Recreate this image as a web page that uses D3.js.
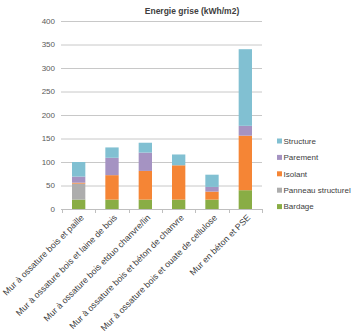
<!DOCTYPE html>
<html><head><meta charset="utf-8">
<script src="https://cdn.jsdelivr.net/npm/d3@7"></script>
<style>body{margin:0;background:#fff}svg{display:block}</style>
</head><body>
<svg id="c" width="362" height="336"></svg>
<script>
const categories = ["Mur à ossature bois et paille","Mur à ossature bois et laine de bois","Mur à ossature bois etduo chanvre/lin","Mur à ossature bois et béton de chanvre","Mur à ossature bois et ouate de cellulose","Mur en béton et PSE"];
const seriesNames = ["Bardage","Panneau structurel","Isolant","Parement","Structure"];
const bardage = [20,20,20,20,20,40];
const panneau = [34,0,0,0,0,0];
const isolant = [2,52,61,73,17,116];
const parement = [13,37,39,0,10,21];
const structure = [31,22,21,23,26,163];
const yTicks = [0,50,100,150,200,250,300,350,400];
const colors = ["#89ad45","#adadad","#f58535","#a593c2","#81c0d2"];

const values = [bardage,panneau,isolant,parement,structure];
const table = categories.map((c,i)=>{const o={cat:c};seriesNames.forEach((s,j)=>o[s]=values[j][i]);return o;});
const stack = d3.stack().keys(seriesNames)(table);

const svg = d3.select("#c");
const x = d3.scaleBand().domain(categories).range([62,262]).paddingInner(0.6).paddingOuter(0.3);
const xb = d3.scaleBand().domain(categories).range([62,262]);
const y = d3.scaleLinear().domain([0,400]).range([209,21]);
const font = "Liberation Sans, Arial, sans-serif";

// gridlines
svg.append("g").selectAll("line").data(yTicks.slice(1)).join("line")
  .attr("x1",61).attr("x2",262).attr("y1",d=>y(d)+0.5).attr("y2",d=>y(d)+0.5)
  .attr("stroke","#c8c8c8").attr("stroke-width",1);

// y labels
svg.append("g").selectAll("text").data(yTicks).join("text")
  .attr("x",55).attr("y",d=>y(d)).attr("dy","0.35em").attr("text-anchor","end")
  .attr("font-family",font).attr("font-size",8).attr("fill","#595959").text(d=>d);

// bars
svg.append("g").selectAll("g").data(stack).join("g").attr("fill",(d,i)=>colors[i])
  .selectAll("rect").data(d=>d).join("rect")
  .attr("x",d=>x(d.data.cat)).attr("width",x.bandwidth())
  .attr("y",d=>y(d[1])).attr("height",d=>Math.max(0,y(d[0])-y(d[1])));

// x axis
svg.append("line").attr("x1",61).attr("x2",262).attr("y1",209.5).attr("y2",209.5).attr("stroke","#bfbfbf");
const tickPos = categories.map(c=>xb(c)).concat([262]);
svg.append("g").selectAll("line").data(tickPos).join("line")
  .attr("x1",d=>Math.round(d)+0.5).attr("x2",d=>Math.round(d)+0.5).attr("y1",209).attr("y2",213)
  .attr("stroke","#bfbfbf");

// x labels
svg.append("g").selectAll("text").data(categories).join("text")
  .attr("transform",c=>`translate(${xb(c)+xb.bandwidth()/2+3.5},216) rotate(-45)`)
  .attr("text-anchor","end").attr("dy","0.35em")
  .attr("font-family",font).attr("font-size",8.8).attr("fill","#404040").text(c=>c);

// title
svg.append("text").attr("x",192).attr("y",14).attr("text-anchor","middle")
  .attr("font-family",font).attr("font-size",8.5).attr("font-weight","bold").attr("fill","#404040")
  .text("Energie grise (kWh/m2)");

// legend
const legendOrder = seriesNames.map((s,i)=>({s,c:colors[i]})).reverse();
const lg = svg.append("g").selectAll("g").data(legendOrder).join("g")
  .attr("transform",(d,i)=>`translate(277,${141+i*16.4})`);
lg.append("rect").attr("x",0).attr("y",-2.5).attr("width",5).attr("height",5).attr("fill",d=>d.c);
lg.append("text").attr("x",6.5).attr("dy","0.35em").attr("font-family",font).attr("font-size",8)
  .attr("fill","#404040").text(d=>d.s);
</script>
</body></html>
